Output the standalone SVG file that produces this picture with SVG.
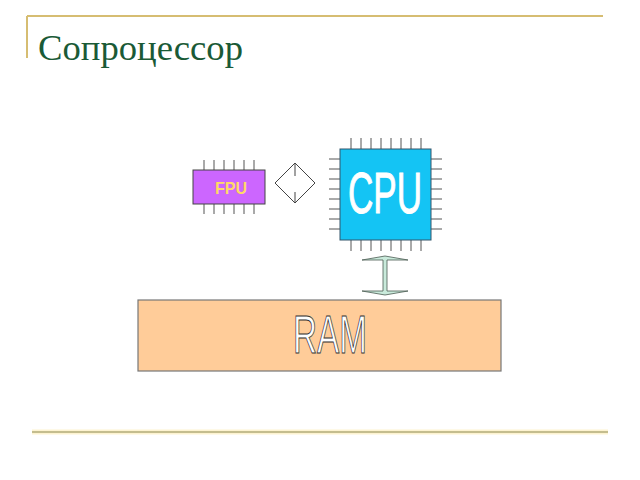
<svg xmlns="http://www.w3.org/2000/svg" width="640" height="480" viewBox="0 0 640 480">
<style>
.pin{stroke:#555;stroke-width:1}
.chip{stroke:#444;stroke-width:1}
.big{font-family:"Liberation Sans",Arial,sans-serif}
</style>
<rect width="640" height="480" fill="#ffffff"/>
<g id="frame">
<line x1="27" y1="16" x2="603" y2="16" stroke="#d6bd72" stroke-width="2"/>
<line x1="27" y1="16" x2="27" y2="58" stroke="#d6bd72" stroke-width="2"/>
<line x1="32" y1="432" x2="608" y2="432" stroke="#fdf3d0" stroke-width="5"/>
<line x1="32" y1="432" x2="608" y2="432" stroke="#c4bd8e" stroke-width="2"/>
</g>
<text x="38" y="60" font-family="'Liberation Serif','Times New Roman',serif" font-size="36" fill="#1a5a36" textLength="205" lengthAdjust="spacingAndGlyphs">Сопроцессор</text>
<g id="fpu">
<g class="pin">
<path d="M204 160V170M214 160V170M224 160V170M234 160V170M244 160V170M254 160V170"/>
<path d="M204 204V214M214 204V214M224 204V214M234 204V214M244 204V214M254 204V214"/>
</g>
<rect x="193" y="170" width="72" height="34" fill="#cc66ff" class="chip"/>
<text x="231" y="194" text-anchor="middle" class="big" font-weight="bold" font-size="17" fill="#ffd966" textLength="32" lengthAdjust="spacingAndGlyphs">FPU</text>
</g>
<g id="cpu">
<g class="pin">
<path d="M351 138V149M361 138V149M371 138V149M381 138V149M391 138V149M401 138V149M411 138V149M421 138V149"/>
<path d="M351 240V251M361 240V251M371 240V251M381 240V251M391 240V251M401 240V251M411 240V251M421 240V251"/>
<path d="M329 159H340M329 169H340M329 179H340M329 189H340M329 199H340M329 209H340M329 219H340M329 229H340"/>
<path d="M431 159H442M431 169H442M431 179H442M431 189H442M431 199H442M431 209H442M431 219H442M431 229H442"/>
</g>
<rect x="340" y="149" width="91" height="91" fill="#14c4f4" stroke="#33556a" stroke-width="1"/>
<text x="385" y="213" text-anchor="middle" class="big" font-size="57" fill="#ffffff" stroke="#ffffff" stroke-width="1" textLength="74" lengthAdjust="spacingAndGlyphs">CPU</text>
</g>
<g id="ram">
<rect x="138" y="300" width="363" height="71" fill="#ffcc99" stroke="#777" stroke-width="1.2"/>
<text x="330" y="353" text-anchor="middle" class="big" font-size="53" fill="#ffffff" stroke="#333" stroke-width="1" textLength="74" lengthAdjust="spacingAndGlyphs">RAM</text>
</g>
<g id="connectors">
<g id="fpu-cpu">
<polygon points="295,163 315,183 295,203 275,183" fill="#ffffff" stroke="#444" stroke-width="1"/>
<line x1="295" y1="164" x2="295" y2="176" stroke="#444" stroke-width="1"/>
<line x1="295" y1="192" x2="295" y2="202" stroke="#444" stroke-width="1"/>
</g>
<g id="cpu-ram">
<polygon points="385,256 408,260 387,260 387,291 408,291 385,295 362,291 383,291 383,260 362,260" fill="#c9eadb" stroke="#4a5a52" stroke-width="0.8"/>
</g>
</g>
</svg>
